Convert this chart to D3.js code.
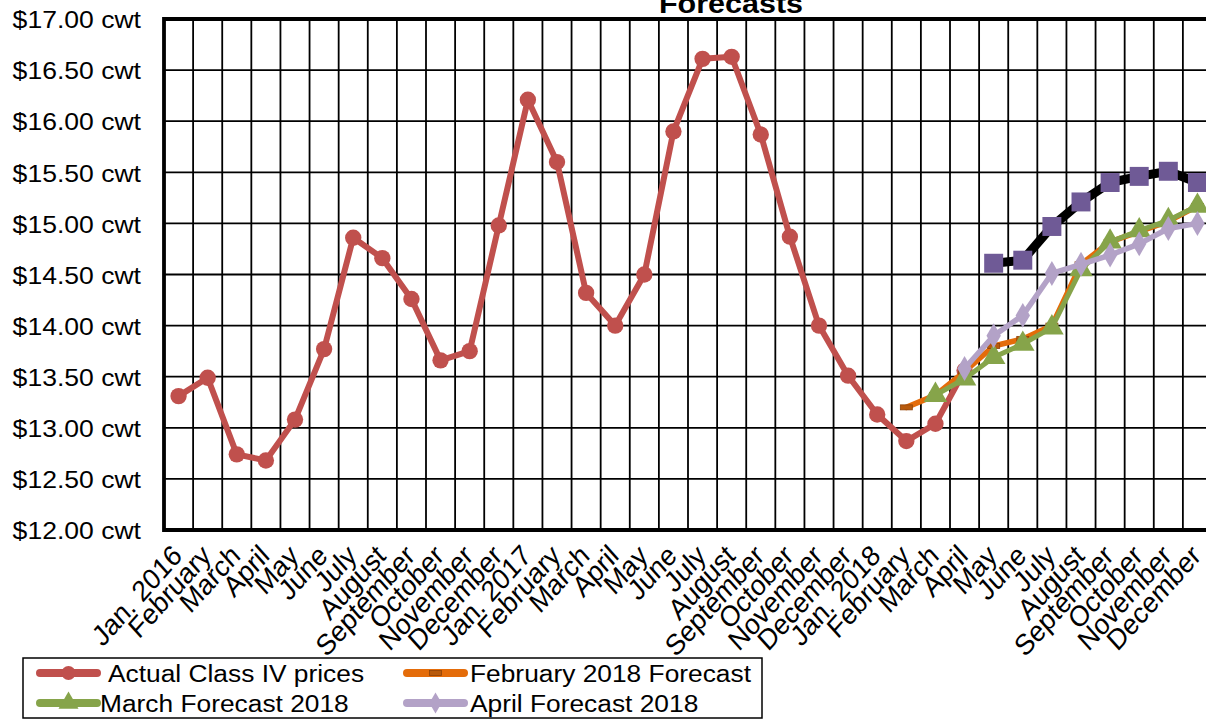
<!DOCTYPE html>
<html>
<head>
<meta charset="utf-8">
<script src="https://cdn.jsdelivr.net/npm/d3@7"></script>
<style>
  body { margin: 0; background: #fff; }
  svg { display: block; font-family: "Liberation Sans", Arial, sans-serif; }
</style>
</head>
<body>
<div id="chart"></div>
<script>
// month labels along the x axis
const monthLabels = [
  "Jan. 2016", "February", "March", "April", "May", "June", "July", "August",
  "September", "October", "November", "December",
  "Jan. 2017", "February", "March", "April", "May", "June", "July", "August",
  "September", "October", "November", "December",
  "Jan. 2018", "February", "March", "April", "May", "June", "July", "August",
  "September", "October", "November", "December"
];

const yTicks = [12, 12.5, 13, 13.5, 14, 14.5, 15, 15.5, 16, 16.5, 17];

const N = null;
const actualPrices = [13.31, 13.49, 12.74, 12.68, 13.08, 13.77, 14.86, 14.66, 14.26, 13.66, 13.75, 14.98,
                      16.21, 15.60, 14.32, 14.00, 14.50, 15.90, 16.61, 16.63, 15.87, 14.87, 14.00, 13.51,
                      13.13, 12.87, 13.04, 13.56, N, N, N, N, N, N, N, N];
const febForecast = [N, N, N, N, N, N, N, N, N, N, N, N,
                     N, N, N, N, N, N, N, N, N, N, N, N,
                     N, 13.20, 13.32, 13.55, 13.80, 13.87, 14.00, 14.60, 14.82, 14.92, 15.02, 15.17];
const marForecast = [N, N, N, N, N, N, N, N, N, N, N, N,
                     N, N, N, N, N, N, N, N, N, N, N, N,
                     N, N, 13.32, 13.48, 13.69, 13.82, 13.98, 14.55, 14.82, 14.93, 15.03, 15.17];
const aprForecast = [N, N, N, N, N, N, N, N, N, N, N, N,
                     N, N, N, N, N, N, N, N, N, N, N, N,
                     N, N, N, 13.58, 13.90, 14.10, 14.51, 14.60, 14.69, 14.80, 14.95, 15.00];
const mayForecast = [N, N, N, N, N, N, N, N, N, N, N, N,
                     N, N, N, N, N, N, N, N, N, N, N, N,
                     N, N, N, N, 14.61, 14.64, 14.97, 15.21, 15.40, 15.46, 15.51, 15.40];

const width = 1206, height = 719;
const plot = { left: 164, right: 1212, top: 19, bottom: 530 };
const stretch = 1.13; // horizontal text is a bit wide in the picture

const svg = d3.select("#chart").append("svg")
  .attr("width", width)
  .attr("height", height);

const x = d3.scaleBand()
  .domain(d3.range(monthLabels.length))
  .range([plot.left, plot.right])
  .padding(0);
const xc = i => x(i) + x.bandwidth() / 2;

const y = d3.scaleLinear()
  .domain([12, 17])
  .range([plot.bottom, plot.top]);

// title (cut off at the top, as in the source)
svg.append("text")
  .attr("transform", `translate(731,13) scale(${stretch},1)`)
  .attr("text-anchor", "middle")
  .style("font-size", "27px")
  .style("font-weight", "bold")
  .text("Forecasts");

// grid
const grid = svg.append("g").attr("stroke", "#000").attr("stroke-width", 1.8);
grid.selectAll(".hg")
  .data(yTicks)
  .enter().append("line")
  .attr("x1", plot.left).attr("x2", plot.right)
  .attr("y1", d => y(d)).attr("y2", d => y(d));
grid.selectAll(".vg")
  .data(d3.range(1, monthLabels.length))
  .enter().append("line")
  .attr("x1", d => x(d)).attr("x2", d => x(d))
  .attr("y1", plot.top).attr("y2", plot.bottom);

// plot border (thick)
svg.append("path")
  .attr("fill", "none").attr("stroke", "#000").attr("stroke-width", 3.8)
  .attr("d", `M${plot.right},${plot.top}H${plot.left}V${plot.bottom}H${plot.right}`);

// y axis labels
svg.append("g").selectAll("text")
  .data(yTicks)
  .enter().append("text")
  .attr("transform", d => `translate(141,${y(d) + 1}) scale(${stretch},1)`)
  .attr("text-anchor", "end")
  .attr("dy", "0.35em")
  .style("font-size", "23.5px")
  .text(d => "$" + d3.format(".2f")(d) + " cwt");

// x axis labels, rotated
svg.append("g").selectAll("text")
  .data(monthLabels)
  .enter().append("text")
  .attr("transform", (d, i) => `translate(${xc(i) - 8},${plot.bottom + 13}) scale(1,1.12) rotate(-45)`)
  .attr("text-anchor", "end")
  .attr("dy", "0.7em")
  .style("font-size", "26px")
  .text(d => d);

// series
const seriesList = [
  { name: "Actual Class IV prices", values: actualPrices, line: "#C0504D", lw: 6, marker: "circle", fill: "#C0504D" },
  { name: "February 2018 Forecast", values: febForecast, line: "#E46C0A", lw: 5.5, marker: "dash", fill: "#B85A0C" },
  { name: "March Forecast 2018", values: marForecast, line: "#86A44A", lw: 5, marker: "triangle", fill: "#86A44A" },
  { name: "April Forecast 2018", values: aprForecast, line: "#B3A2C7", lw: 5.5, marker: "diamond", fill: "#B3A2C7" },
  { name: "May Forecast 2018", values: mayForecast, line: "#000000", lw: 9, marker: "square", fill: "#6F5A96" }
];

const symbolFor = {
  circle: d3.symbol().type(d3.symbolCircle).size(210),
  triangle: d3.symbol().type(d3.symbolTriangle).size(240),
  diamond: d3.symbol().type(d3.symbolDiamond).size(180),
  square: d3.symbol().type(d3.symbolSquare).size(360)
};

const lineGen = d3.line()
  .defined(d => d.v !== null)
  .x(d => xc(d.i))
  .y(d => y(d.v));

function drawMarker(sel, s, scale) {
  if (s.marker === "dash") {
    sel.append("rect")
      .attr("x", -6).attr("y", -2.5).attr("width", 12).attr("height", 5)
      .attr("fill", s.fill).attr("stroke", "#8E4308").attr("stroke-width", 0.8);
  } else {
    sel.append("path")
      .attr("d", symbolFor[s.marker]())
      .attr("transform", scale ? `scale(${scale})` : null)
      .attr("fill", s.fill);
  }
}

seriesList.forEach(s => {
  const pts = s.values.map((v, i) => ({ i, v }));
  const g = svg.append("g");
  g.append("path")
    .datum(pts)
    .attr("fill", "none")
    .attr("stroke", s.line)
    .attr("stroke-width", s.lw)
    .attr("stroke-linejoin", "round")
    .attr("stroke-linecap", "round")
    .attr("d", lineGen);
  g.selectAll(".m")
    .data(pts.filter(d => d.v !== null))
    .enter().append("g")
    .attr("transform", d => `translate(${xc(d.i)},${y(d.v)})`)
    .each(function() { drawMarker(d3.select(this), s); });
});

// legend
const legend = svg.append("g");
legend.append("rect")
  .attr("x", 23).attr("y", 658).attr("width", 739).attr("height", 60)
  .attr("fill", "#fff").attr("stroke", "#000").attr("stroke-width", 1.5);

const legendItems = [
  { s: seriesList[0], x0: 40, y0: 673, tx: 108 },
  { s: seriesList[1], x0: 407, y0: 673, tx: 470 },
  { s: seriesList[2], x0: 40, y0: 703, tx: 100 },
  { s: seriesList[3], x0: 407, y0: 703, tx: 470 }
];
legendItems.forEach(it => {
  const g = legend.append("g");
  g.append("line")
    .attr("x1", it.x0).attr("x2", it.x0 + 57)
    .attr("y1", it.y0).attr("y2", it.y0)
    .attr("stroke", it.s.line).attr("stroke-width", 8).attr("stroke-linecap", "round");
  drawMarker(g.append("g").attr("transform", `translate(${it.x0 + 28.5},${it.y0})`), it.s, 0.85);
  g.append("text")
    .attr("transform", `translate(${it.tx},${it.y0 + 1}) scale(${stretch},1)`)
    .attr("dy", "0.35em")
    .style("font-size", "23.3px")
    .text(it.s.name);
});
</script>
</body>
</html>
